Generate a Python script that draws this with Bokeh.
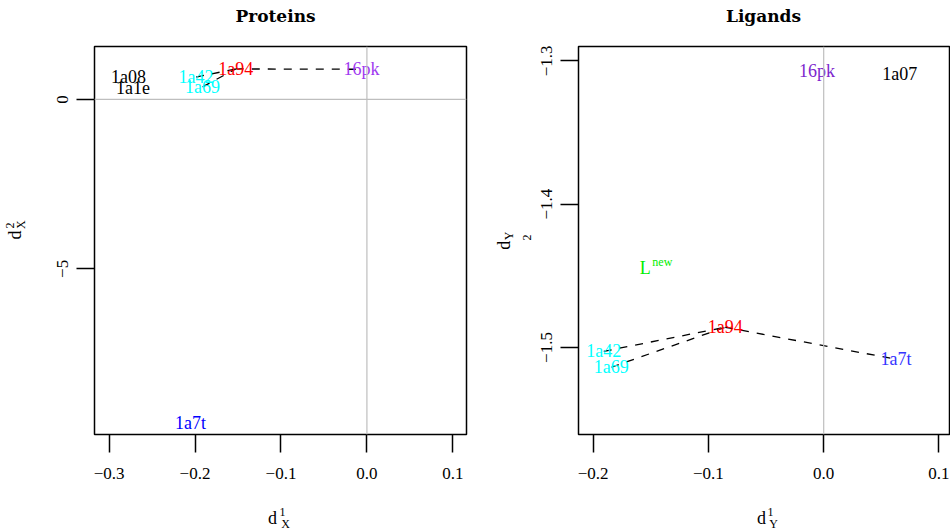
import math
from bokeh.plotting import figure
from bokeh.layouts import row, column
from bokeh.models import (ColumnDataSource, Span, FixedTicker,
                          CustomJSTickFormatter, Range1d)
from bokeh.embed import file_html
from bokeh.resources import INLINE
from bokeh.core.properties import value

FONT = "Liberation Serif"
TFONT = "DejaVu Serif"

# ---------------- data ----------------
prot_names = ["1a08", "1a1e", "1a42", "1a69", "1a94", "16pk", "1a7t"]
prot_x = [-0.2775, -0.2722, -0.1988, -0.1913, -0.1526, -0.0064, -0.2052]
prot_y = [0.66, 0.34, 0.66, 0.37, 0.90, 0.89, -9.56]
prot_col = ["black", "black", "cyan", "cyan", "red", "#A03AF0", "blue"]
prot_links = [("1a42", "1a94"), ("1a69", "1a94"), ("1a94", "16pk")]

lig_names = ["16pk", "1a07", "1a94", "1a42", "1a69", "1a7t"]
lig_x = [-0.0059, 0.0660, -0.0854, -0.1908, -0.1843, 0.0628]
lig_y = [-1.3072, -1.3093, -1.4859, -1.5027, -1.5138, -1.5082]
lig_col = ["#7D26CD", "black", "red", "cyan", "cyan", "#3535FF"]
lig_links = [("1a42", "1a94"), ("1a69", "1a94"), ("1a94", "1a7t")]
lnew_x = [-0.1443]
lnew_y = [-1.4446]

prot_xticks = [-0.3, -0.2, -0.1, 0.0, 0.1]
prot_yticks = [-5, 0]
lig_xticks = [-0.2, -0.1, 0.0, 0.1]
lig_yticks = [-1.5, -1.4, -1.3]


def fmt(dec):
    return CustomJSTickFormatter(args=dict(dec=dec), code="""
        return (tick < 0 ? "\u2212" : "") + Math.abs(tick).toFixed(dec);
    """)


def style(p, xt, yt, xdec, ydec):
    p.outline_line_color = "black"
    p.outline_line_width = 1.5
    p.grid.visible = False
    p.xaxis.ticker = FixedTicker(ticks=xt)
    p.yaxis.ticker = FixedTicker(ticks=yt)
    p.xaxis.formatter = fmt(xdec)
    p.yaxis.formatter = fmt(ydec)
    for ax in (p.xaxis, p.yaxis):
        ax.axis_line_color = None
        ax.major_tick_out = 18
        ax.major_tick_in = 0
        ax.major_tick_line_width = 1.5
        ax.major_tick_line_color = "black"
        ax.minor_tick_line_color = None
        ax.major_label_text_font = FONT
        ax.major_label_text_font_size = "17px"
        ax.major_label_text_color = "black"
    p.xaxis.major_label_standoff = 15
    p.yaxis.major_label_standoff = 8
    p.yaxis.major_label_orientation = "vertical"


def add_points(p, names, xs, ys, cols, links):
    idx = {n: i for i, n in enumerate(names)}
    lx = [[xs[idx[a]], xs[idx[b]]] for a, b in links]
    ly = [[ys[idx[a]], ys[idx[b]]] for a, b in links]
    p.multi_line(lx, ly, line_color="black", line_width=1.3, line_dash="8 8")
    src = ColumnDataSource(dict(x=xs, y=ys, t=names, c=cols))
    p.text("x", "y", text="t", source=src, text_color="c",
           text_font=value(FONT), text_font_size="18px",
           text_align="center", text_baseline="middle")


def strip(w, h, items, font=FONT, style_="normal"):
    """A bare figure that only holds title / axis-title texts (pixel coordinates)."""
    s = figure(width=w, height=h, output_backend="svg", toolbar_location=None,
               x_range=Range1d(0, w), y_range=Range1d(h, 0),
               min_border=0, min_border_left=0, min_border_right=0,
               min_border_top=0, min_border_bottom=0)
    s.axis.visible = False
    s.grid.visible = False
    s.outline_line_color = None
    for (x, y, t, size, ang) in items:
        s.text([x], [y], text=[t], text_font=value(font), text_font_size=size,
               text_font_style=style_, text_color="black", text_align="center",
               text_baseline="middle", angle=ang)
    return s


V = math.pi / 2

# ---------------- left panel: Proteins ----------------
p1 = figure(width=441, height=455, output_backend="svg", toolbar_location=None,
            x_range=Range1d(-0.317, 0.1159), y_range=Range1d(-9.888, 1.562),
            min_border_left=60, min_border_right=9, min_border_top=1,
            min_border_bottom=66)
style(p1, prot_xticks, prot_yticks, 1, 0)
p1.add_layout(Span(location=0, dimension="height", line_color="#BEBEBE", line_width=1.2))
p1.add_layout(Span(location=0, dimension="width", line_color="#BEBEBE", line_width=1.2))
add_points(p1, prot_names, prot_x, prot_y, prot_col, prot_links)

# ---------------- right panel: Ligands ----------------
p2 = figure(width=416, height=455, output_backend="svg", toolbar_location=None,
            x_range=Range1d(-0.2127, 0.110), y_range=Range1d(-1.5607, -1.2901),
            min_border_left=44, min_border_right=0, min_border_top=1,
            min_border_bottom=66)
style(p2, lig_xticks, lig_yticks, 1, 1)
p2.add_layout(Span(location=0, dimension="height", line_color="#BEBEBE", line_width=1.2))
add_points(p2, lig_names, lig_x, lig_y, lig_col, lig_links)
p2.text(lnew_x, lnew_y, text=["L"], text_color="#00EE00", x_offset=-12,
        text_font=value(FONT), text_font_size="18px",
        text_align="center", text_baseline="middle")
p2.text(lnew_x, lnew_y, text=["new"], text_color="#00EE00", x_offset=5, y_offset=-6,
        text_font=value(FONT), text_font_size="12px",
        text_align="center", text_baseline="middle")

# ---------------- titles and axis titles ----------------
title1 = strip(475, 45, [(275, 15, "Proteins", "17px", 0)], font=TFONT, style_="bold")
title2 = strip(475, 45, [(288, 15, "Ligands", "17px", 0)], font=TFONT, style_="bold")
ylab1 = strip(34, 455, [(14, 221, "d", "18px", V), (9, 210, "2", "12px", V),
                        (20, 209, "X", "12px", V)])
ylab2 = strip(59, 455, [(28, 233, "d", "18px", V), (33, 222, "Y", "12px", V),
                        (51, 224, "2", "12px", V)])
xlab1 = strip(475, 31, [(272, 17, "d", "18px", 0), (282, 11, "1", "12px", 0),
                        (285, 23, "X", "12px", 0)])
xlab2 = strip(475, 31, [(286, 17, "d", "18px", 0), (295, 11, "1", "12px", 0),
                        (298, 23, "Y", "12px", 0)])

layout = column(row(title1, title2, spacing=0),
                row(ylab1, p1, ylab2, p2, spacing=0),
                row(xlab1, xlab2, spacing=0), spacing=0)
open("out.html", "w").write(file_html(layout, INLINE))
